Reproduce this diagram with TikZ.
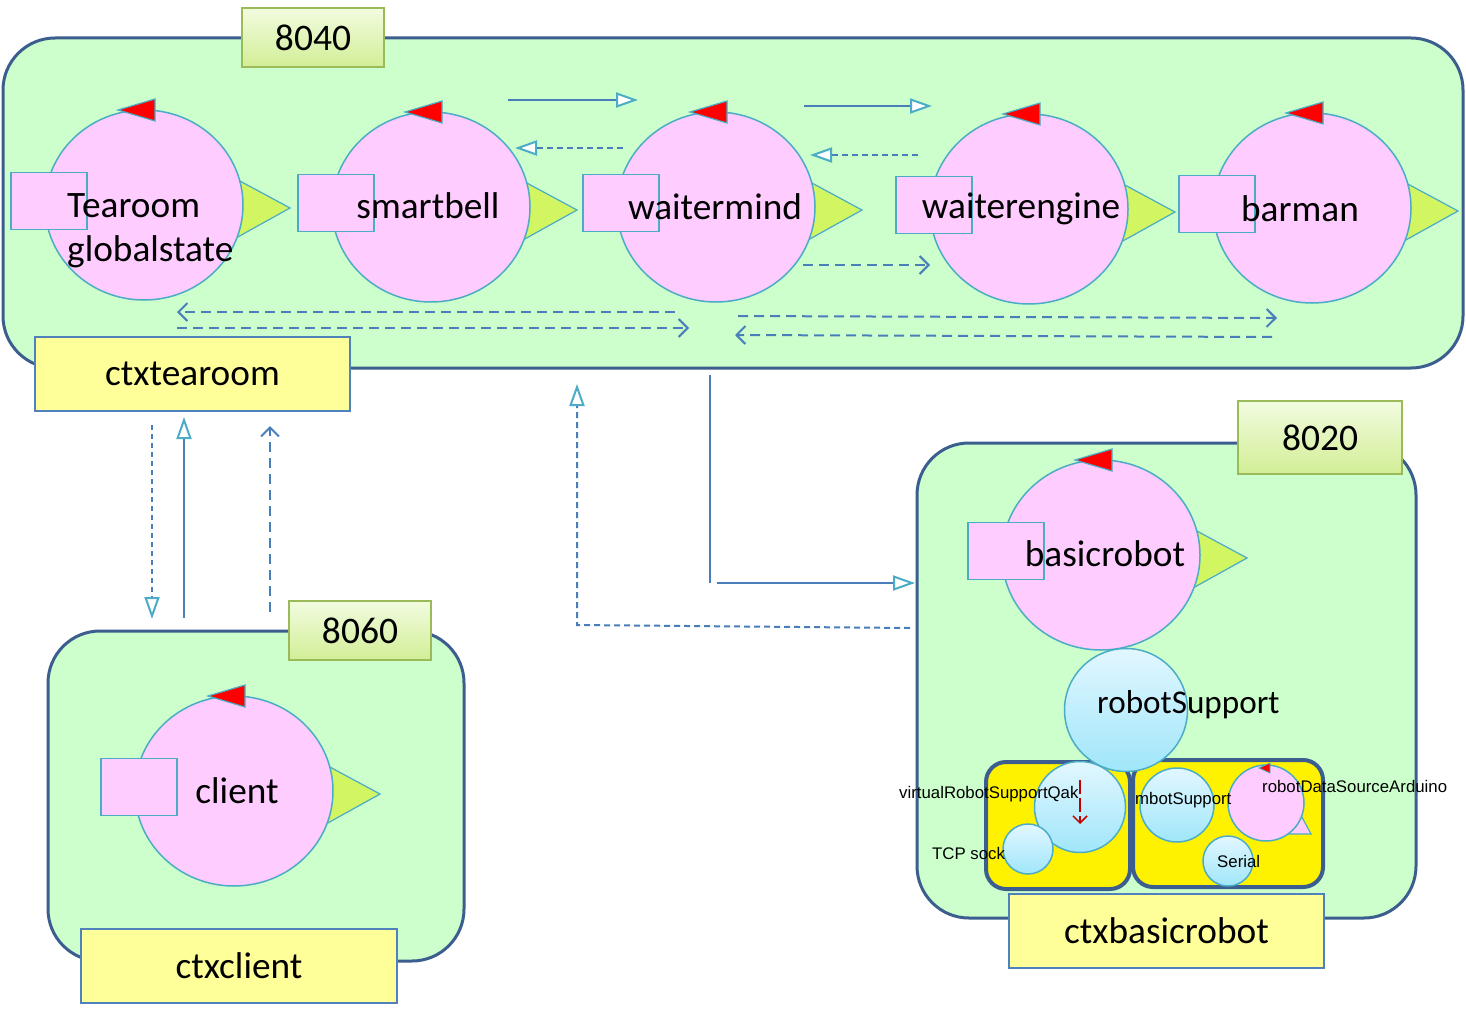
\documentclass[tikz,border=0pt]{standalone}
\usepackage{fontspec}
\setmainfont{Carlito}
\newfontfamily\arialf{Liberation Sans}
\usetikzlibrary{arrows.meta,shapes.geometric}
\definecolor{cgreen}{HTML}{CCFFCC}
\definecolor{cborder}{HTML}{3C5E8E}
\definecolor{cpink}{HTML}{FFCCFF}
\definecolor{cteal}{HTML}{4BACC6}
\definecolor{carrow}{HTML}{4A7EBB}
\definecolor{cyl}{HTML}{FFFF99}
\definecolor{ctxb}{HTML}{4F81BD}
\definecolor{colive}{HTML}{9BBB59}
\definecolor{numtop}{HTML}{F2FCE0}
\definecolor{numbot}{HTML}{D2EE96}
\definecolor{lime}{HTML}{D2F562}
\definecolor{bltop}{HTML}{E2F7FF}
\definecolor{blbot}{HTML}{A0E6FA}
\definecolor{cdred}{HTML}{C00000}
\tikzset{
 container/.style={draw=cborder, line width=3pt, fill=cgreen, rounded corners=52pt},
 numlbl/.style={draw=colive, line width=1.5pt, top color=numtop, bottom color=numbot, inner sep=0pt, font=\fontsize{37.5}{40}\selectfont},
 ctxbox/.style={draw=ctxb, line width=1.5pt, fill=cyl, inner sep=0pt, font=\fontsize{37.3}{40}\selectfont},
 actorc/.style={ellipse, draw=cteal, line width=1.5pt, fill=cpink, minimum width=198pt, minimum height=190pt, inner sep=0pt},
 portsq/.style={rectangle, draw=cteal, line width=1.5pt, fill=cpink, minimum width=76pt, minimum height=57pt, inner sep=0pt},
 gtri/.style={draw=cteal, line width=1.2pt, fill=lime},
 rtri/.style={draw=cteal, line width=1.2pt, fill=red},
 bigtxt/.style={font=\fontsize{37.3}{44}\selectfont, inner sep=0pt},
 midtxt/.style={font=\fontsize{33.2}{38}\selectfont, inner sep=0pt},
 smtxt/.style={font=\arialf\fontsize{16.8}{18}\selectfont, inner sep=0pt},
 conn/.style={draw=carrow, line width=2pt},
 dsh/.style={dash pattern=on 10pt off 6pt},
 sdsh/.style={dash pattern=on 6pt off 4pt},
 otri/.style={-{Triangle[length=22pt,width=15pt,fill=white,color=cteal,line width=2pt]}},
 vhead/.style={-{Straight Barb[length=9pt,width=18pt]}},
 ybox/.style={draw=cborder, line width=4pt, fill=yellow, rounded corners=20pt},
 bcirc/.style={circle, draw=cteal, line width=1.5pt, top color=bltop, bottom color=blbot, inner sep=0pt},
 pcirc/.style={circle, draw=cteal, line width=1.5pt, fill=cpink, inner sep=0pt},
}
\newcommand\qactor[3]{%
 \draw[gtri] ({#2+94},{#3-25}) -- ({#2+146},{#3+3}) -- ({#2+92},{#3+33}) -- cycle;
 \node[actorc] (#1) at (#2,#3) {};
 \node[portsq] (#1p) at ({#2-95},{#3-4}) {};
 \draw[rtri] ({#2-26},{#3-95}) -- ({#2+11},{#3-106}) -- ({#2+11},{#3-84}) -- cycle;
}
\begin{document}
\begin{tikzpicture}[x=1pt,y=-1pt]
\useasboundingbox[fill=white] (0,0) rectangle (1466,1022);
% containers
\draw[container] (3,38) rectangle (1463,368);
\draw[container] (48,631) rectangle (464,961);
\draw[container] (917,443) rectangle (1416,918);
% top actors
\qactor{tearoom}{144}{205}
\qactor{smartbell}{431}{207}
\qactor{waitermind}{716}{207}
\qactor{waiterengine}{1029}{209}
\qactor{barman}{1312}{208}
\qactor{client}{234}{791}
\qactor{basicrobot}{1101}{555}
% actor texts
\node[bigtxt, anchor=base west, align=left] (ttea) at (67,217) {Tearoom};
\node[bigtxt, anchor=base west] (tglob) at (67,261) {globalstate};
\node[bigtxt, anchor=base] (tsb) at (428,218) {smartbell};
\node[bigtxt, anchor=base] (twm) at (715,219) {waitermind};
\node[bigtxt, anchor=base] (twe) at (1021,218) {waiterengine};
\node[bigtxt, anchor=base] (tbm) at (1300,221) {barman};
\node[bigtxt, anchor=base] (tcl) at (237,803) {client};
\node[bigtxt, anchor=base] (tbr) at (1105,566) {basicrobot};
% labels
\node[numlbl, minimum width=142pt, minimum height=59pt] (n8040) at (313,37.5) {8040};
\node[numlbl, minimum width=142pt, minimum height=59pt] (n8060) at (360,630.5) {8060};
\node[numlbl, minimum width=164pt, minimum height=73pt] (n8020) at (1320,437.5) {8020};
\node[ctxbox, minimum width=315pt, minimum height=74pt] (ctxtearoom) at (192.5,374) {ctxtearoom};
\node[ctxbox, minimum width=316pt, minimum height=74pt] (ctxclient) at (239,966) {ctxclient};
\node[ctxbox, minimum width=315pt, minimum height=74pt] (ctxbasicrobot) at (1166.5,931) {ctxbasicrobot};
% robot support area
\draw[ybox] (986,762) rectangle (1130,889);
\draw[ybox] (1133,760) rectangle (1323,887);
\node[bcirc, minimum size=91pt] (vrsq) at (1080,807) {};
\node[bcirc, minimum size=50pt] (tcp) at (1028,849) {};
\node[bcirc, minimum size=74pt] (mbot) at (1177,805) {};
\draw[draw=cteal, line width=1.2pt, fill=cpink] (1296,806) -- (1311,834) -- (1284,834) -- cycle;
\node[pcirc, minimum size=76pt] (rdsa) at (1266,803) {};
\draw[rtri, line width=0.8pt] (1259,768) -- (1270,763) -- (1270,773) -- cycle;
\node[bcirc, minimum size=50pt] (serial) at (1228,861) {};
\node[bcirc, minimum size=123pt] (rsup) at (1126,710) {};
\coordinate (ra1) at (1080,780);
\coordinate (ra2) at (1080,824);
\draw[draw=cdred, line width=1.5pt, dash pattern=on 14pt off 4pt, -{Straight Barb[length=7pt,width=14pt]}] (ra1) -- (ra2);
\node[midtxt, anchor=base west] (trs) at (1097,713) {robotSupport};
\node[smtxt, anchor=base west] (tvr) at (899,798) {virtualRobotSupportQak};
\node[smtxt, anchor=base west] (ttcp) at (932,859) {TCP sock};
\node[smtxt, anchor=base west] (tmb) at (1135,804) {mbotSupport};
\node[smtxt, anchor=base west] (trd) at (1262,792) {robotDataSourceArduino};
\node[smtxt, anchor=base west] (tser) at (1217,867) {Serial};
% connectors inside 8040
\coordinate (a1s) at (508,100); \coordinate (a1e) at (638,100);
\coordinate (a2s) at (804,106); \coordinate (a2e) at (932,106);
\coordinate (a3s) at (623,148); \coordinate (a3e) at (515,148);
\coordinate (a4s) at (918,155); \coordinate (a4e) at (810,155);
\coordinate (a5s) at (803,265); \coordinate (a5e) at (930,265);
\coordinate (a6s) at (675,312); \coordinate (a6e) at (177,312);
\coordinate (a7s) at (177,328); \coordinate (a7e) at (689,328);
\coordinate (a8s) at (738,316); \coordinate (a8e) at (1277,318);
\coordinate (a9s) at (1272,337); \coordinate (a9e) at (735,335);
\draw[conn, otri] (a1s) -- (a1e);
\draw[conn, otri] (a2s) -- (a2e);
\draw[conn, sdsh, otri] (a3s) -- (a3e);
\draw[conn, sdsh, otri] (a4s) -- (a4e);
\draw[conn, dsh, vhead] (a5s) -- (a5e);
\draw[conn, dsh, vhead] (a6s) -- (a6e);
\draw[conn, dsh, vhead] (a7s) -- (a7e);
\draw[conn, dsh, vhead] (a8s) -- (a8e);
\draw[conn, dsh, vhead] (a9s) -- (a9e);
% between ctxtearoom and 8060
\coordinate (b1s) at (152,425); \coordinate (b1e) at (152,619);
\coordinate (b2s) at (184,618); \coordinate (b2e) at (184,417);
\coordinate (b3s) at (270,612); \coordinate (b3e) at (270,426);
\draw[conn, dash pattern=on 5pt off 4pt, otri] (b1s) -- (b1e);
\draw[conn, otri] (b2s) -- (b2e);
\draw[conn, dsh, vhead] (b3s) -- (b3e);
% between 8040 and 8020
\coordinate (c1s) at (910,628); \coordinate (c1m) at (577,625); \coordinate (c1e) at (577,384);
\coordinate (c2s) at (710,375); \coordinate (c2e) at (710,583);
\coordinate (c3s) at (717,583); \coordinate (c3e) at (915,583);
\draw[conn, sdsh, otri] (c1s) -- (c1m) -- (c1e);
\draw[conn] (c2s) -- (c2e);
\draw[conn, otri] (c3s) -- (c3e);
\end{tikzpicture}
\end{document}
